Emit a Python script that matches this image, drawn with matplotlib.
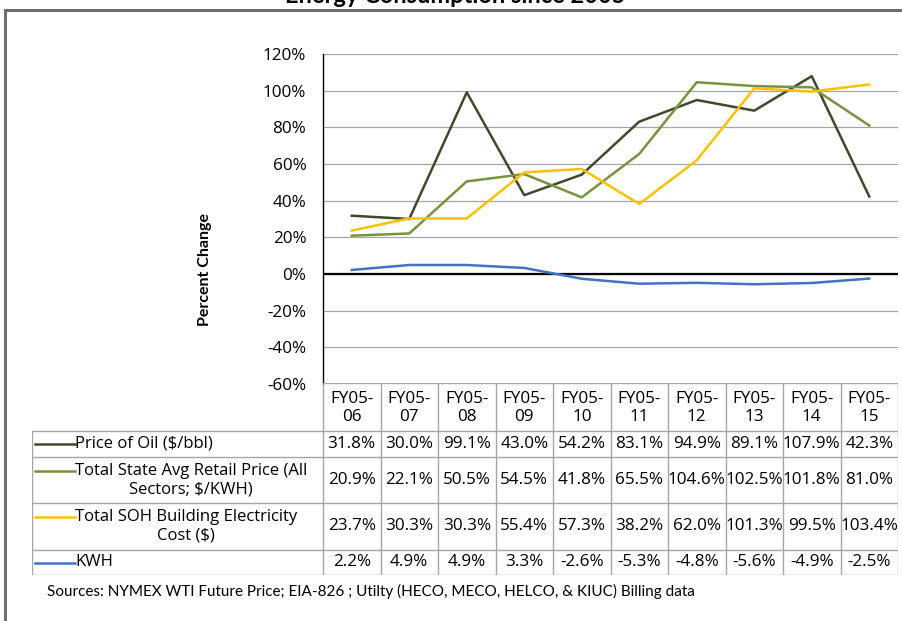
import matplotlib
matplotlib.use("Agg")
import matplotlib.pyplot as plt
from matplotlib.lines import Line2D
import numpy as np

years = ["FY05-\n06", "FY05-\n07", "FY05-\n08", "FY05-\n09", "FY05-\n10",
         "FY05-\n11", "FY05-\n12", "FY05-\n13", "FY05-\n14", "FY05-\n15"]
oil = [31.8, 30.0, 99.1, 43.0, 54.2, 83.1, 94.9, 89.1, 107.9, 42.3]
state_avg = [20.9, 22.1, 50.5, 54.5, 41.8, 65.5, 104.6, 102.5, 101.8, 81.0]
soh_cost = [23.7, 30.3, 30.3, 55.4, 57.3, 38.2, 62.0, 101.3, 99.5, 103.4]
kwh = [2.2, 4.9, 4.9, 3.3, -2.6, -5.3, -4.8, -5.6, -4.9, -2.5]

series_names = ["Price of Oil ($/bbl)",
                "Total State Avg Retail Price (All\nSectors; $/KWH)",
                "Total SOH Building Electricity\nCost ($)",
                "KWH"]
series_values = [oil, state_avg, soh_cost, kwh]
series_colors = ["#3f4a2c", "#77933c", "#ffc000", "#4472c4"]

W, H = 902, 621
fig = plt.figure(figsize=(W / 100, H / 100), dpi=100)

def px_box(left, top, right, bottom):
    return [left / W, 1 - bottom / H, (right - left) / W, (bottom - top) / H]

TXT = "Open Sans"
CAL = "Lato"

# main line chart
ax = fig.add_axes(px_box(323, 54, 898, 384))
x = np.arange(len(years))
for vals, col in zip(series_values, series_colors):
    ax.plot(x, vals, color=col, lw=1.8, zorder=3)
ax.set_xlim(-0.5, len(years) - 0.5)
ax.set_ylim(-60, 120)
ax.set_yticks(np.arange(-60, 121, 20))
ax.set_yticklabels([f"{v}%" for v in range(-60, 121, 20)], fontfamily=TXT, fontsize=12.3)
ax.tick_params(axis="y", length=0, pad=12)
ax.set_xticks([])
ax.grid(axis="y", color="#a6a6a6", lw=0.9)
ax.axhline(0, color="black", lw=1.6, zorder=2)
for s in ["top", "right", "bottom"]:
    ax.spines[s].set_visible(False)
ax.spines["left"].set_color("black")
ax.spines["left"].set_linewidth(1.0)

fig.text(205 / W, 1 - 270 / H, "Percent Change", rotation=90, ha="center", va="center",
         fontfamily=CAL, fontweight="bold", fontsize=11.5)

# data table below the chart, sharing the chart's columns
tab = fig.add_axes(px_box(32, 383, 898, 575))
col_w = 575 / len(years)
left_edge = -0.5 - (323 - 32) / col_w
n = len(years)
tab.set_xlim(left_edge, n - 0.5)
tab.set_ylim(192, 0)
tab.axis("off")
rows = [0, 48, 74, 120, 167, 192]
gc = "#a6a6a6"
tab.plot([-0.5, n - 0.5], [0, 0], color=gc, lw=1)
for r in rows[1:]:
    tab.plot([left_edge, n - 0.5], [r, r], color=gc, lw=1)
for i in range(n + 1):
    tab.plot([i - 0.5, i - 0.5], [0, 192], color=gc, lw=1)
tab.plot([left_edge, left_edge], [rows[1], 192], color=gc, lw=1)

for i, lab in enumerate(years):
    tab.text(i, rows[1] / 2 + 1, lab, ha="center", va="center", fontfamily=TXT,
             fontsize=12.3, linespacing=1.15)

key_x0 = left_edge + 3 / col_w
key_x1 = left_edge + 43 / col_w
for j, (name, vals, col) in enumerate(zip(series_names, series_values, series_colors)):
    top, bot = rows[j + 1], rows[j + 2]
    mid = (top + bot) / 2
    nlines = name.count("\n") + 1
    key_y = mid if nlines == 1 else top + (bot - top) * 0.3
    tab.plot([key_x0, key_x1], [key_y, key_y], color=col, lw=1.8)
    tab.text(key_x1, mid, name, ha="left", va="center", fontfamily=TXT,
             fontsize=12, multialignment="center", linespacing=1.2)
    for i, v in enumerate(vals):
        tab.text(i, mid, f"{v:.1f}%", ha="center", va="center", fontfamily=TXT, fontsize=12.3)

fig.text(47 / W, 1 - 591 / H, "Sources: NYMEX WTI Future Price; EIA-826 ; Utilty (HECO, MECO, HELCO, & KIUC) Billing data",
         ha="left", va="center", fontfamily=CAL, fontsize=11)

# title, cut off at the top edge as in the source image
fig.text(455 / W, 1 - 3 / H, "Energy Consumption since 2005", ha="center", va="baseline",
         fontfamily=CAL, fontweight="bold", fontsize=17)

# outer frame
fig.add_artist(Line2D([5 / W, 1], [1 - 10 / H, 1 - 10 / H], color="#6e6e6e", lw=2.2))
fig.add_artist(Line2D([5 / W, 5 / W], [0, 1 - 10 / H], color="#6e6e6e", lw=2.2))

fig.savefig("out.png", dpi=100)
